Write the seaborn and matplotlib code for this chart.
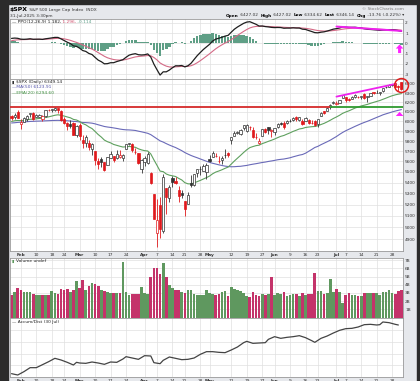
import numpy as np
import pandas as pd
import matplotlib
matplotlib.use('Agg')
import matplotlib.pyplot as plt
from matplotlib.ticker import FixedLocator, NullLocator, FixedFormatter
import seaborn as sns

sns.set_style('white')
plt.rcParams['font.family'] = ['DejaVu Sans']

### Trading calendar (Nov-2024 warm-up + visible window)
holidays = ['2024-11-28', '2024-12-25', '2025-01-01', '2025-01-09', '2025-01-20',
            '2025-02-17', '2025-04-18', '2025-05-26', '2025-06-19', '2025-07-04']
all_days = pd.bdate_range('2024-11-01', '2025-07-31', freq='C', holidays=holidays)

# closes before the visible window, only used for the moving averages / PPO
warmup_close = [5728.80, 5712.69, 5782.76, 5929.04, 5973.10, 5995.54, 6001.35, 5983.99, 5985.38, 5949.17,
                5870.62, 5893.62, 5916.98, 5917.11, 5948.71, 5969.34, 5987.37, 6021.63, 5998.74, 6032.38,
                6047.15, 6049.88, 6086.49, 6075.11, 6090.27, 6052.85, 6034.91, 6084.19, 6051.25, 6051.09,
                6074.08, 6050.61, 5872.16, 5867.08, 5930.85, 5974.07, 6040.04, 6037.59, 5970.84, 5906.94,
                5881.63, 5868.55, 5942.47, 5975.38, 5909.03, 5918.25, 5827.04, 5836.22, 5842.91, 5949.91,
                5937.34, 5996.66, 6049.24, 6086.37, 6118.71, 6101.24, 6012.28, 6067.70]

# visible window: 29-Jan-2025 .. 31-Jul-2025
opens = [6057.70, 6050.75, 6096.79,
         5969.65, 5998.14, 6020.45, 6072.22, 6083.13, 6046.40, 6049.32, 6025.08, 6060.59, 6115.52,
         6121.60, 6117.76, 6141.40, 6114.10, 6026.69, 5982.73, 5970.87, 5981.88, 5856.74,
         5968.33, 5811.98, 5781.38, 5785.87, 5726.01, 5705.37, 5603.65, 5624.84, 5594.45, 5563.85,
         5635.60, 5654.53, 5632.37, 5646.92, 5630.73, 5718.08, 5775.86, 5771.66, 5695.64, 5679.12, 5527.91,
         5597.53, 5580.76, 5492.74, 5292.14, 4953.79, 5193.57, 4965.28, 5353.15, 5255.56, 5441.96,
         5411.99, 5335.75, 5305.45, 5232.94, 5207.67, 5395.92, 5381.38, 5489.40, 5529.22, 5508.87, 5499.44,
         5625.14, 5645.26, 5655.32, 5605.88, 5614.75, 5663.91, 5679.55, 5807.63, 5854.45, 5886.23,
         5869.48, 5929.08, 5902.88, 5944.66, 5910.61, 5841.26, 5781.89, 5854.07, 5925.85, 5939.92, 5903.67,
         5896.68, 5938.56, 5978.94, 5985.67, 5987.06, 6004.60, 6009.91, 6049.38, 6009.90, 6000.56,
         6004.00, 6012.15, 5987.93, 5999.67, 5969.67, 6061.21, 6104.16, 6112.10, 6150.70, 6193.36,
         6187.25, 6193.34, 6246.45, 6259.75, 6233.26, 6238.11, 6260.23, 6255.68, 6255.15, 6295.29,
         6252.64, 6265.71, 6308.62, 6304.74, 6306.60, 6326.90, 6368.60, 6370.01, 6397.69, 6409.26,
         6374.64, 6427.02]
highs = [6062.80, 6086.64, 6120.91,
         6022.13, 6042.48, 6062.86, 6084.03, 6101.28, 6073.38, 6076.28, 6063.62, 6116.91, 6127.47,
         6129.63, 6147.43, 6143.73, 6114.82, 6043.65, 5992.65, 6009.82, 5993.69, 5959.40,
         5986.09, 5865.08, 5860.59, 5812.08, 5783.01, 5705.37, 5636.30, 5642.19, 5597.78, 5645.27,
         5703.52, 5654.53, 5715.33, 5711.15, 5670.84, 5775.14, 5783.87, 5783.62, 5732.28, 5685.89, 5627.56,
         5650.57, 5695.31, 5500.41, 5292.14, 5246.57, 5267.47, 5481.34, 5353.15, 5381.46, 5459.46,
         5450.41, 5367.24, 5328.31, 5232.94, 5309.61, 5469.69, 5484.77, 5528.11, 5553.66, 5571.95, 5581.84,
         5658.91, 5700.70, 5683.54, 5649.30, 5654.94, 5720.10, 5691.68, 5844.19, 5906.63, 5906.59,
         5924.60, 5958.62, 5968.61, 5953.06, 5938.37, 5878.08, 5829.51, 5924.33, 5929.00, 5943.13, 5922.14,
         5937.40, 5981.35, 5990.48, 5999.70, 6016.87, 6021.31, 6043.01, 6059.40, 6045.43, 6026.16,
         6050.83, 6023.25, 6018.25, 6018.20, 6028.81, 6101.80, 6108.51, 6146.52, 6187.68, 6215.08,
         6210.78, 6227.60, 6284.65, 6262.38, 6242.80, 6269.03, 6290.22, 6269.45, 6272.62, 6302.04,
         6269.11, 6301.66, 6315.61, 6336.08, 6316.12, 6360.64, 6381.31, 6395.82, 6401.07, 6409.26,
         6389.65, 6427.02]
lows = [6012.96, 6027.46, 6030.93,
        5923.93, 5990.87, 6007.06, 6046.83, 6019.96, 6044.84, 6042.34, 6003.00, 6051.01, 6107.62,
        6099.51, 6111.15, 6084.12, 6008.56, 5977.83, 5908.49, 5932.69, 5858.78, 5837.66,
        5810.91, 5732.59, 5742.35, 5711.64, 5666.29, 5564.02, 5528.41, 5546.09, 5504.65, 5563.85,
        5631.12, 5597.76, 5622.20, 5632.33, 5603.10, 5718.08, 5759.30, 5695.52, 5670.94, 5572.42, 5488.73,
        5558.52, 5571.48, 5390.83, 5069.90, 4835.04, 4910.42, 4948.43, 5115.27, 5220.77, 5358.02,
        5386.44, 5220.79, 5255.58, 5101.63, 5207.67, 5356.85, 5371.96, 5455.86, 5468.64, 5505.70, 5433.24,
        5597.35, 5644.81, 5639.73, 5587.36, 5578.64, 5635.83, 5644.95, 5775.51, 5854.45, 5867.90,
        5861.26, 5907.36, 5895.69, 5909.26, 5830.91, 5825.82, 5767.41, 5854.07, 5883.29, 5873.80, 5843.66,
        5861.43, 5929.00, 5966.11, 5921.20, 5978.63, 5994.18, 6000.26, 6002.32, 6003.88, 5963.21,
        6004.00, 5974.80, 5971.89, 5952.56, 5943.23, 6061.21, 6080.07, 6107.28, 6132.35, 6177.97,
        6177.14, 6188.29, 6246.45, 6201.01, 6217.76, 6233.25, 6251.58, 6245.37, 6237.30, 6241.62,
        6201.32, 6263.42, 6285.27, 6303.79, 6281.71, 6317.49, 6360.57, 6368.53, 6375.43, 6363.68,
        6323.51, 6334.62]
closes = [6039.31, 6071.17, 6040.53,
          5994.57, 6037.88, 6061.48, 6083.57, 6025.99, 6066.44, 6068.50, 6051.97, 6115.07, 6114.63,
          6129.58, 6144.15, 6117.52, 6013.13, 5983.25, 5955.25, 5956.06, 5861.57, 5954.50,
          5849.72, 5778.15, 5842.63, 5738.52, 5770.20, 5614.56, 5572.07, 5599.30, 5521.52, 5638.94,
          5675.12, 5614.66, 5675.29, 5662.89, 5667.56, 5767.57, 5776.65, 5712.20, 5693.31, 5580.94, 5611.85,
          5633.07, 5670.97, 5396.52, 5074.08, 5062.25, 4982.77, 5456.90, 5268.05, 5363.36, 5405.97,
          5396.63, 5275.70, 5282.70, 5158.20, 5287.76, 5375.86, 5484.77, 5525.21, 5528.75, 5560.83, 5569.06,
          5604.14, 5686.67, 5650.38, 5606.91, 5631.28, 5663.94, 5659.91, 5844.19, 5886.55, 5892.58,
          5916.93, 5958.38, 5963.60, 5940.46, 5844.61, 5842.01, 5802.82, 5921.54, 5888.55, 5912.17, 5911.69,
          5935.94, 5970.37, 5970.81, 5939.30, 6000.36, 6005.88, 6038.81, 6022.24, 6045.26, 5976.97,
          6033.11, 5982.72, 5980.87, 5967.84, 6025.17, 6092.18, 6092.16, 6141.02, 6173.07, 6204.95,
          6198.01, 6227.42, 6279.35, 6229.98, 6225.52, 6263.26, 6280.46, 6259.75, 6268.56, 6243.76,
          6263.70, 6297.36, 6296.79, 6305.60, 6309.62, 6358.91, 6363.35, 6388.64, 6389.77, 6370.86,
          6362.90, 6346.14]

# volume, billions of shares
volume_b = [2.8, 3.1, 3.6,
            3.4, 3.1, 3.1, 3.1, 2.9, 2.7, 2.7, 2.8, 2.8, 2.7, 3.2, 3.0, 2.9, 3.5, 3.4, 3.5, 3.1, 3.4, 4.4,
            3.6, 4.6, 3.4, 3.8, 4.2, 4.1, 3.9, 3.4, 3.2, 3.1, 3.0, 3.0, 3.0, 3.0, 6.8, 3.1, 2.7, 2.9, 2.9, 2.9, 3.7,
            3.0, 2.9, 4.9, 6.0, 6.1, 5.3, 6.6, 5.0, 4.0, 3.6, 3.4, 3.4, 3.1, 3.0, 3.3, 3.3, 2.9, 2.8, 2.8, 2.7, 3.4,
            3.0, 2.9, 2.8, 2.9, 3.1, 3.2, 2.6, 3.7, 3.5, 3.4, 3.2, 3.0, 2.6, 2.5, 3.1, 2.8, 2.6, 2.9, 2.7, 2.9, 5.0,
            2.8, 3.0, 2.9, 3.1, 2.6, 2.8, 2.9, 2.9, 2.6, 3.0, 2.7, 2.9, 2.9, 5.4, 3.2, 3.2, 2.9, 3.0, 4.65, 3.1,
            3.5, 3.1, 1.8, 2.7, 3.0, 2.8, 2.8, 2.6, 2.6, 3.0, 3.0, 3.0, 3.0, 3.0, 2.7, 3.1, 3.1, 3.3, 3.0, 2.9,
            3.2, 3.3]

# Accum/Dist line, read at these bars (arbitrary units)
ad_days = [0, 2, 4, 6, 8, 10, 12, 14, 16, 18, 20, 21, 22, 24, 26, 28, 30, 32, 34, 36, 37, 39, 41, 43,
           45, 46, 48, 49, 51, 53, 55, 57, 59, 61, 63, 65, 67, 69, 71, 73, 75, 76, 78, 80, 82, 83, 85,
           87, 89, 91, 93, 95, 97, 98, 100, 102, 104, 106, 108, 110, 112, 114, 116, 118, 119, 120,
           122, 124, 125]
ad_level = [10, 6, 16, 28, 28, 37, 46, 56, 51, 44, 36, 44, 42, 41, 45, 42, 38, 45, 44, 54, 61, 57, 53, 64,
            63, 43, 40, 50, 60, 56, 52, 53, 57, 68, 76, 76, 74, 73, 81, 90, 103, 107, 101, 102, 103, 113, 121,
            116, 119, 121, 124, 118, 109, 104, 116, 123, 132, 140, 145, 146, 150, 157, 158, 156, 157, 165,
            163, 158, 156]

tick_dates = ['2025-02-03', '2025-02-10', '2025-02-18', '2025-02-24', '2025-03-03', '2025-03-10',
              '2025-03-17', '2025-03-24', '2025-04-01', '2025-04-07', '2025-04-14', '2025-04-21',
              '2025-04-28', '2025-05-01', '2025-05-12', '2025-05-19', '2025-05-27', '2025-06-02',
              '2025-06-09', '2025-06-16', '2025-06-23', '2025-07-01', '2025-07-07', '2025-07-14',
              '2025-07-21', '2025-07-28']
tick_labels = ['Feb', '10', '18', '24', 'Mar', '10', '17', '24', 'Apr', '7', '14', '21', '28', 'May',
               '12', '19', '27', 'Jun', '9', '16', '23', 'Jul', '7', '14', '21', '28']
month_names = ['Feb', 'Mar', 'Apr', 'May', 'Jun', 'Jul']
price_ticks = [4900, 5000, 5100, 5200, 5300, 5400, 5500, 5600, 5700, 5800, 5900, 6000, 6100, 6200, 6300, 6400]
ppo_ticks = [-3, -2, -1, 0, 1, 2]
vol_ticks = [1, 2, 3, 4, 5, 6, 7]

# hand-drawn annotations on the chart
level_price = 6147
level_break_day = 103
price_trend_days = [105, 124]
price_trend_vals = [6262, 6400]
ppo_trend_days = [105, 126]
ppo_trend_vals = [1.65, 1.22]

n = len(closes)
assert len(all_days) == len(warmup_close) + n
days = all_days[len(warmup_close):]
idx = np.arange(n)

### indicators
all_close = pd.Series(warmup_close + closes)
ma50 = all_close.rolling(50).mean().iloc[-n:].values
ema20 = all_close.ewm(span=20, adjust=False).mean().iloc[-n:].values
ema12 = all_close.ewm(span=12, adjust=False).mean()
ema26 = all_close.ewm(span=26, adjust=False).mean()
ppo_all = (ema12 - ema26) / ema26 * 100
sig_all = ppo_all.ewm(span=9, adjust=False).mean()
ppo = ppo_all.iloc[-n:].values
sig = sig_all.iloc[-n:].values
hist = ppo - sig
prev_close = np.array([warmup_close[-1]] + closes[:-1])
up_day = np.array(closes) >= prev_close

tick_pos = [days.get_loc(pd.Timestamp(d)) for d in tick_dates]

### figure
W, H = 420, 381
fig = plt.figure(figsize=(W / 100, H / 100), dpi=100, facecolor='#e6e8ec')


def fx(px):
    return px / W


def fy(py):
    return 1 - py / H


L, R = 10, 403
ax_ppo = fig.add_axes([fx(L), fy(79), fx(R - L), (79 - 19) / H])
ax_px = fig.add_axes([fx(L), fy(251), fx(R - L), (251 - 79) / H])
ax_vol = fig.add_axes([fx(L), fy(318), fx(R - L), (318 - 258) / H])
ax_ad = fig.add_axes([fx(L), fy(377), fx(R - L), (377 - 318) / H])

grid_kw = dict(color='#e0e0e0', lw=0.5)
for ax in [ax_ppo, ax_px, ax_vol, ax_ad]:
    ax.set_facecolor('white')
    ax.set_xlim(-0.5, n - 0.5)
    ax.set_xticks(tick_pos)
    ax.xaxis.grid(True, **grid_kw)
    ax.yaxis.grid(True, **grid_kw)
    ax.set_axisbelow(True)
    ax.yaxis.tick_right()
    ax.tick_params(axis='both', length=0, labelsize=3.1, colors='#333333', pad=1.5)
    for s in ax.spines.values():
        s.set_color('#9a9a9a')
        s.set_linewidth(0.6)

### PPO panel
ax_ppo.bar(idx, hist, width=0.8, color='#5f9f86', lw=0, zorder=2)
sns.lineplot(x=idx, y=sig, ax=ax_ppo, color='#d46a86', lw=0.8, zorder=3)
sns.lineplot(x=idx, y=ppo, ax=ax_ppo, color='#1e1e1e', lw=0.9, zorder=4)
ax_ppo.plot(ppo_trend_days, ppo_trend_vals, color='#ee22ee', lw=1.4, zorder=5)
ax_ppo.annotate('', xy=(125.4, -0.1), xytext=(125.4, -0.95),
                arrowprops=dict(facecolor='#ff22ff', edgecolor='none', width=2.2, headwidth=5.5, headlength=3))
ax_ppo.set_ylim(-3.49, 2.39)
ax_ppo.set_yticks(ppo_ticks)
ax_ppo.set_yticklabels([str(t) for t in ppo_ticks])
ax_ppo.tick_params(labelbottom=False)

### price panel
red, dark = '#e0191c', '#333333'
for i in idx:
    o, h, l, c = opens[i], highs[i], lows[i], closes[i]
    col = dark if up_day[i] else red
    ax_px.vlines(i, l, h, color=col, lw=0.6, zorder=3)
    lo, hi = min(o, c), max(o, c)
    if hi - lo < 1.5:
        hi = lo + 1.5
    face = col if c < o else 'white'
    ax_px.bar(i, hi - lo, bottom=lo, width=0.72, color=face, edgecolor=col, lw=0.5, zorder=4)

sns.lineplot(x=idx, y=ma50, ax=ax_px, color='#6a6ab8', lw=0.8, zorder=2)
sns.lineplot(x=idx, y=ema20, ax=ax_px, color='#5ea05e', lw=0.8, zorder=2)
ax_px.hlines(level_price, -0.5, level_break_day, color='#d42a2a', lw=1.3, zorder=5)
ax_px.hlines(level_price, level_break_day, n - 0.5, color='#2f9a2f', lw=1.3, zorder=5)
ax_px.plot(price_trend_days, price_trend_vals, color='#ee22ee', lw=1.3, zorder=5)
ax_px.plot([n - 1], [6389], marker='o', ms=10, mfc='none', mec='#e02020', mew=1.1, clip_on=False, zorder=6)
ax_px.annotate('', xy=(125.4, 6100), xytext=(125.4, 6058),
               arrowprops=dict(facecolor='#ff22ff', edgecolor='none', width=2.2, headwidth=5.5, headlength=3))
ax_px.set_yscale('log')
ax_px.set_ylim(4800, 6455)
ax_px.yaxis.set_major_locator(FixedLocator(price_ticks))
ax_px.yaxis.set_major_formatter(FixedFormatter([str(t) for t in price_ticks]))
ax_px.yaxis.set_minor_locator(NullLocator())
ax_px.set_xticklabels(tick_labels)

### volume panel
ax_vol.bar(idx, volume_b, width=0.86, color=np.where(up_day, '#5f985f', '#c4336a'), lw=0, zorder=2)
ax_vol.set_ylim(-0.06, 7.26)
ax_vol.set_yticks(vol_ticks)
ax_vol.set_yticklabels([f'{t}B' for t in vol_ticks])
ax_vol.tick_params(labelbottom=False)

### accum/dist panel
sns.lineplot(x=ad_days, y=ad_level, ax=ax_ad, color='#444444', lw=0.9)
ax_ad.set_ylim(0, 177)
ax_ad.set_yticks([35, 70, 105, 140])
ax_ad.tick_params(labelright=False)
ax_ad.set_xticklabels(tick_labels)

for ax in [ax_px, ax_ad]:
    for t in ax.get_xticklabels():
        if t.get_text() in month_names:
            t.set_fontweight('bold')
for ax in [ax_ppo, ax_px, ax_vol, ax_ad]:
    ax.set_xlabel('')
    ax.set_ylabel('')

### texts
renderer = fig.canvas.get_renderer()


def put_pieces(x_px, y_px, pieces, ha='left'):
    objs = []
    for s, col, size, w in pieces:
        objs.append(fig.text(0, fy(y_px), s, color=col, fontsize=size, fontweight=w, va='center'))
    widths = [t.get_window_extent(renderer=renderer).width for t in objs]
    x = x_px - sum(widths) if ha == 'right' else x_px
    for t, wd in zip(objs, widths):
        t.set_x(fx(x))
        x += wd


put_pieces(10, 9.5, [(r'\$SPX', 'black', 4.4, 'bold'), (' S&P 500 Large Cap Index  INDX', '#333333', 3.1, 'normal')])
fig.text(fx(10), fy(15.5), '31-Jul-2025 3:30pm', fontsize=3.1, color='#333333', va='center')
fig.text(fx(404), fy(9), '\u00a9 StockCharts.com', fontsize=3.1, color='#777777', va='center', ha='right')
put_pieces(404, 15.5, [('Open', 'black', 3.1, 'bold'), (' 6427.02  ', '#333333', 3.1, 'normal'),
                       ('High', 'black', 3.1, 'bold'), (' 6427.02  ', '#333333', 3.1, 'normal'),
                       ('Low', 'black', 3.1, 'bold'), (' 6334.62  ', '#333333', 3.1, 'normal'),
                       ('Last', 'black', 3.1, 'bold'), (' 6346.14  ', '#333333', 3.1, 'normal'),
                       ('Chg', 'black', 3.1, 'bold'), (' -13.76 (-0.22%) \u25be', '#333333', 3.1, 'normal')],
           ha='right')

put_pieces(12, 22, [('\u2014 PPO(12,26,9) 1.182,', '#222222', 3.2, 'normal'),
                    (' 1.296,', '#d0506e', 3.2, 'normal'), (' -0.114', '#5fa08a', 3.2, 'normal')])
put_pieces(12, 82.5, [('\u25ae ', '#333333', 3.2, 'normal'), (r'\$SPX (Daily) 6349.14', '#222222', 3.2, 'normal')])
put_pieces(12, 87.5, [('\u2014MA(50) 6123.91', '#5050a8', 3.2, 'normal')])
put_pieces(12, 92.5, [('\u2014EMA(20) 6294.60', '#3f8f3f', 3.2, 'normal')])
put_pieces(12, 261.5, [('\u25ae ', '#5f9a5f', 3.2, 'normal'), ('Volume undef', '#222222', 3.2, 'normal')])
put_pieces(12, 322, [('\u2014 Accum/Dist (30 Jul)', '#222222', 3.2, 'normal')])

# dark screenshot frame
frame = '#2b2b2b'
fig.patches.append(plt.Rectangle((0, 0), fx(8), 1, transform=fig.transFigure, color=frame, zorder=10))
fig.patches.append(plt.Rectangle((fx(417), 0), fx(3), 1, transform=fig.transFigure, color=frame, zorder=10))
fig.patches.append(plt.Rectangle((0, fy(4)), 1, 4 / H, transform=fig.transFigure, color=frame, zorder=10))

fig.savefig('out.png', dpi=100, facecolor=fig.get_facecolor())
